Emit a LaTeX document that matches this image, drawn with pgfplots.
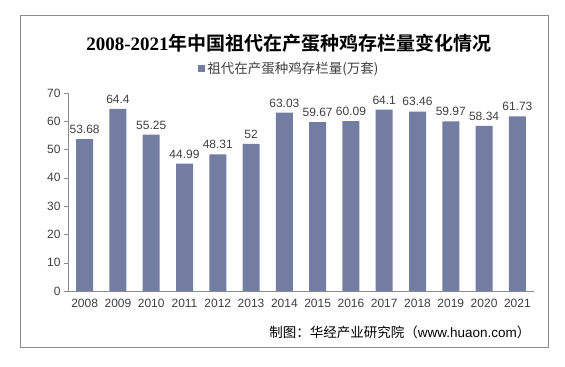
\documentclass[border=0pt]{standalone}
\usepackage{pgfplots}
\pgfplotsset{compat=1.18}
\usepackage{fontspec}
\setmainfont{Liberation Sans}
\newfontfamily\cjk{Noto Sans CJK SC}
\newfontfamily\cjkb{Noto Sans CJK SC Bold}
\newfontfamily\serifb{Liberation Serif}
\definecolor{barc}{HTML}{737DA1}
\definecolor{txt}{HTML}{404040}
\definecolor{axc}{HTML}{8C8C8C}
\begin{document}
\begin{tikzpicture}[x=1bp,y=1bp]
\fill[white] (0,0) rectangle (565,366);
\draw[axc,line width=1bp] (20,19) rectangle (548,350);
\node[font={\fontsize{19bp}{22bp}\selectfont}] at (289,323) {{\serifb\bfseries 2008-2021}{\cjkb 年中国祖代在产蛋种鸡存栏量变化情况}};
\begin{axis}[
  at={(68bp,75bp)}, anchor=south west,
  scale only axis, width=466bp, height=198bp,
  ymin=0, ymax=70, ytick={0,10,...,70},
  xmin=-0.5, xmax=13.5,
  xtick={0,...,13},
  xticklabels={2008,2009,2010,2011,2012,2013,2014,2015,2016,2017,2018,2019,2020,2021},
  major x tick style={draw=none},
  extra x ticks={-0.5,0.5,...,13.5},
  extra x tick labels={},
  extra x tick style={major tick length=4bp, tick style={draw=axc}, tick align=outside},
  axis x line*=bottom, axis y line*=left,
  axis line style={draw=axc, line width=0.8bp},
  y axis line style={-}, x axis line style={-},
  ytick style={draw=axc}, major tick length=4bp, tick align=outside,
  /pgf/number format/assume math mode=true,
  tick label style={font={\fontsize{12bp}{14bp}\selectfont}, text=txt},
  xticklabel style={yshift=-1bp},
  ybar, bar width=17bp,
  nodes near coords,
  every node near coord/.append style={font={\fontsize{12bp}{14bp}\selectfont}, text=txt, yshift=2bp},
  point meta=explicit symbolic,
  legend style={at={(0.475,1.126)}, anchor=center, draw=none, fill=none,
    font={\cjk\fontsize{13.5bp}{15bp}\selectfont}, text=txt, inner sep=0pt},
  legend image code/.code={\fill[barc] (0bp,-3.5bp) rectangle (7bp,3.5bp);},
  legend cell align=left,
]
\addplot[fill=barc, draw=none] coordinates {
(0,53.68) [53.68]
(1,64.4) [64.4]
(2,55.25) [55.25]
(3,44.99) [44.99]
(4,48.31) [48.31]
(5,52) [52]
(6,63.03) [63.03]
(7,59.67) [59.67]
(8,60.09) [60.09]
(9,64.1) [64.1]
(10,63.46) [63.46]
(11,59.97) [59.97]
(12,58.34) [58.34]
(13,61.73) [61.73]
};
\addlegendentry{祖代在产蛋种鸡存栏量(万套)}
\end{axis}
\node[anchor=east, font={\fontsize{13.5bp}{15bp}\selectfont}, text=black] at (534,34) {{\cjk 制图：华经产业研究院（}www.huaon.com{\cjk ）}};
\end{tikzpicture}
\end{document}
